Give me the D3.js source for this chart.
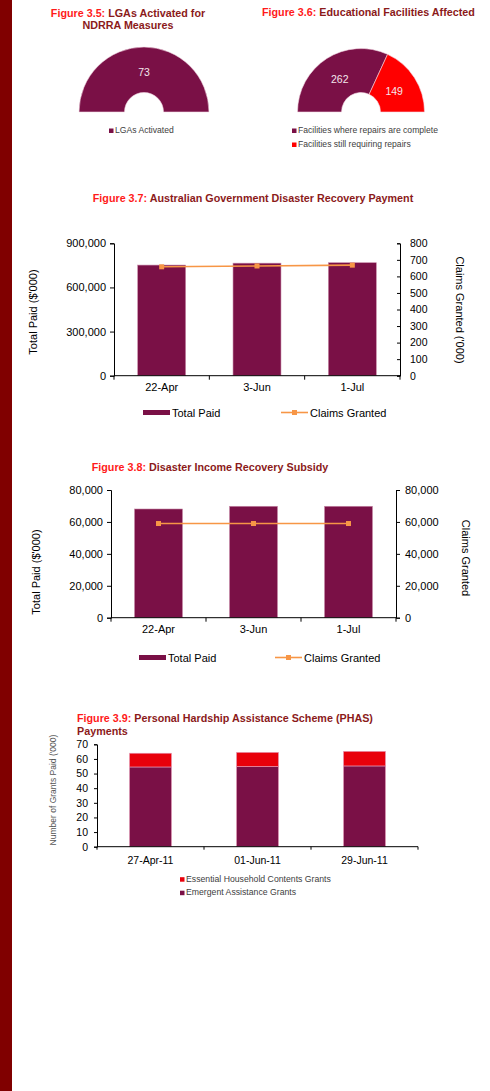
<!DOCTYPE html>
<html><head><meta charset="utf-8">
<script src="https://cdn.jsdelivr.net/npm/d3@7"></script>
<style>body{margin:0;background:#fff;}svg{display:block;font-family:"Liberation Sans",Arial,sans-serif;}</style>
</head><body>
<script>
// ---- Data ----
const lgaLabels = ["LGAs Activated"];
const lgaValues = [73];
const eduLabels = ["Facilities where repairs are complete","Facilities still requiring repairs"];
const eduValues = [262, 149];

const drpDates = ["22-Apr","3-Jun","1-Jul"];
const drpTotalPaid = [752000, 765000, 768000];
const drpClaims = [658, 663, 668];
const drpLeftTicks = [0, 300000, 600000, 900000];
const drpRightTicks = [0,100,200,300,400,500,600,700,800];

const dirsDates = ["22-Apr","3-Jun","1-Jul"];
const dirsTotalPaid = [68100, 69800, 69800];
const dirsClaims = [59000, 59000, 59000];
const dirsTicks = [0, 20000, 40000, 60000, 80000];

const phasDates = ["27-Apr-11","01-Jun-11","29-Jun-11"];
const phasEmergent = [54.5, 54.8, 55.2];
const phasEssential = [9.4, 9.7, 10.0];
const phasTicks = [0,10,20,30,40,50,60,70];

const MAROON = "#7a1046", RED = "#ff0000", RED2 = "#e8000b", ORANGE = "#f79646";
const TRED = "#ff1a1a", TDARK = "#8b1a1a";

const svg = d3.select("body").append("svg").attr("width",490).attr("height",1091);
svg.append("rect").attr("x",0).attr("y",0).attr("width",12).attr("height",1091).attr("fill","#800000");

function title(x, y, anchor, red, dark){
  const t = svg.append("text").attr("x",x).attr("y",y).attr("text-anchor",anchor)
    .attr("font-size",10.75).attr("font-weight","bold");
  if (red) t.append("tspan").attr("fill",TRED).text(red);
  t.append("tspan").attr("fill",TDARK).text(dark);
}

// ---- Figure 3.5 ----
title(128,17,"middle","Figure 3.5:"," LGAs Activated for");
title(128,29,"middle","","NDRRA Measures");
function halfDonut(cx, cy, r, values, colors){
  const pie = d3.pie().sort(null).startAngle(-Math.PI/2).endAngle(Math.PI/2);
  const arc = d3.arc().innerRadius(19.5).outerRadius(r);
  const g = svg.append("g").attr("transform",`translate(${cx},${cy})`);
  const arcs = pie(values);
  g.selectAll("path").data(arcs).join("path").attr("d",arc)
    .attr("fill",(d,i)=>colors[i]).attr("stroke","#f4d8e4").attr("stroke-width",0.6);
  const lab = d3.arc().innerRadius(r*0.62).outerRadius(r*0.62);
  g.selectAll("text").data(arcs).join("text")
    .attr("transform",d=>{const c=lab.centroid(d);return `translate(${c[0]},${c[1]+4})`;})
    .attr("text-anchor","middle").attr("font-size",10.5).attr("fill","#f3e6ec")
    .text(d=>d.data);
}
halfDonut(144,112,65,lgaValues,[MAROON]);
function sqLegend(x, y0, dy, labels, colors, fs){
  labels.forEach((l,i)=>{
    svg.append("rect").attr("x",x).attr("y",y0+i*dy-4.5).attr("width",4.5).attr("height",4.5).attr("fill",colors[i]);
    svg.append("text").attr("x",x+6).attr("y",y0+i*dy).attr("font-size",fs).attr("fill","#404040").text(l);
  });
}
sqLegend(109,133,14,lgaLabels,[MAROON],8.6);

// ---- Figure 3.6 ----
title(262,16,"start","Figure 3.6:"," Educational Facilities  Affected");
halfDonut(361,112,63.5,eduValues,[MAROON,RED]);
sqLegend(292,133,14,eduLabels,[MAROON,RED],8.6);

// ---- Combo chart helper ----
function combo(o){
  const x = d3.scaleBand().domain(o.cats).range([o.x0,o.x1]).paddingInner(o.pad).paddingOuter(o.pad/2);
  const yL = d3.scaleLinear().domain(o.lDom).range([o.y1,o.y0]);
  const yR = d3.scaleLinear().domain(o.rDom).range([o.y1,o.y0]);
  const g = svg.append("g");
  g.selectAll("rect.bar").data(o.bars).join("rect").attr("class","bar")
    .attr("x",(d,i)=>x(o.cats[i])).attr("width",x.bandwidth())
    .attr("y",d=>yL(d)).attr("height",d=>yL(0)-yL(d))
    .attr("fill",MAROON).attr("stroke","#c78aa8").attr("stroke-width",0.6);
  const fmt = d3.format(",");
  const la = g.append("g").attr("transform",`translate(${o.x0},0)`)
    .call(d3.axisLeft(yL).tickValues(o.lTicks).tickFormat(fmt).tickSize(4).tickPadding(4));
  const ra = g.append("g").attr("transform",`translate(${o.x1},0)`)
    .call(d3.axisRight(yR).tickValues(o.rTicks).tickFormat(fmt).tickSize(o.rIn?-3:4).tickPadding(o.rIn?10:5));
  [la,ra].forEach(a=>{a.select(".domain").attr("stroke","#000");a.selectAll("text").attr("font-size",o.fs).attr("fill","#000").attr("font-family","Liberation Sans, Arial");a.selectAll("line").attr("stroke","#000");});
  ra.selectAll("text").attr("font-size",o.rfs);
  // bottom axis
  const step = x.step();
  const bnds = [o.x0].concat(o.cats.map(c=>x(c)+x.bandwidth()+step*o.pad/2));
  g.append("line").attr("x1",o.x0).attr("x2",o.x1).attr("y1",o.y1).attr("y2",o.y1).attr("stroke","#000");
  g.selectAll("line.bt").data(bnds).join("line").attr("class","bt")
    .attr("x1",d=>d).attr("x2",d=>d).attr("y1",o.y1).attr("y2",o.y1+4).attr("stroke","#000");
  g.selectAll("text.xl").data(o.cats).join("text").attr("class","xl")
    .attr("x",d=>x(d)+x.bandwidth()/2).attr("y",o.y1+15).attr("text-anchor","middle")
    .attr("font-size",o.fs).text(d=>d);
  // line
  const line = d3.line().x((d,i)=>x(o.cats[i])+x.bandwidth()/2).y(d=>yR(d));
  g.append("path").datum(o.line).attr("d",line).attr("fill","none").attr("stroke",ORANGE).attr("stroke-width",1.6);
  g.selectAll("rect.mk").data(o.line).join("rect").attr("class","mk")
    .attr("x",(d,i)=>x(o.cats[i])+x.bandwidth()/2-2.5).attr("y",d=>yR(d)-2.5)
    .attr("width",5).attr("height",5).attr("fill",ORANGE);
  // axis titles
  g.append("text").attr("transform",`translate(${o.lLabX},${o.lLabY}) rotate(-90)`)
    .attr("text-anchor","middle").attr("font-size",o.fs).attr("dy","0.35em").text(o.lLab);
  g.append("text").attr("transform",`translate(${o.rLabX},${o.rLabY}) rotate(90)`)
    .attr("text-anchor","middle").attr("font-size",o.fs).attr("dy","0.35em").text(o.rLab);
  // legend
  g.append("rect").attr("x",o.legX1).attr("y",o.legY-7).attr("width",27).attr("height",5).attr("fill",MAROON);
  g.append("text").attr("x",o.legX1+29).attr("y",o.legY).attr("font-size",o.fs).text("Total Paid");
  g.append("line").attr("x1",o.legX2).attr("x2",o.legX2+27).attr("y1",o.legY-4.5).attr("y2",o.legY-4.5).attr("stroke",ORANGE).attr("stroke-width",1.6);
  g.append("rect").attr("x",o.legX2+11).attr("y",o.legY-7).attr("width",5).attr("height",5).attr("fill",ORANGE);
  g.append("text").attr("x",o.legX2+29).attr("y",o.legY).attr("font-size",o.fs).text("Claims Granted");
}

// ---- Figure 3.7 ----
title(253,202,"middle","Figure 3.7:"," Australian Government Disaster Recovery Payment");
combo({cats:drpDates,bars:drpTotalPaid,line:drpClaims,x0:114,x1:400,y0:243.3,y1:375.7,pad:0.497,
  lDom:[0,900000],rDom:[0,800],lTicks:drpLeftTicks,rTicks:drpRightTicks,rIn:true,fs:11,rfs:10.5,
  lLab:"Total Paid ($'000)",lLabX:33,lLabY:312,rLab:"Claims Granted ('000)",rLabX:460,rLabY:310,
  legX1:143,legX2:281,legY:417});

// ---- Figure 3.8 ----
title(210,471,"middle","Figure 3.8:"," Disaster Income Recovery Subsidy");
combo({cats:dirsDates,bars:dirsTotalPaid,line:dirsClaims,x0:111,x1:396,y0:490,y1:617.7,pad:0.495,
  lDom:[0,80000],rDom:[0,80000],lTicks:dirsTicks,rTicks:dirsTicks,rIn:false,fs:11,rfs:11,
  lLab:"Total Paid ($'000)",lLabX:36,lLabY:572,rLab:"Claims Granted",rLabX:466,rLabY:558,
  legX1:139,legX2:275,legY:662});

// ---- Figure 3.9 ----
title(77,722,"start","Figure 3.9:"," Personal Hardship Assistance Scheme (PHAS)");
title(77,735,"start","","Payments");
(function(){
  const x0=97,x1=418,y0=744.3,y1=846.7,pad=0.607;
  const x = d3.scaleBand().domain(phasDates).range([x0,x1]).paddingInner(pad).paddingOuter(pad/2);
  const y = d3.scaleLinear().domain([0,70]).range([y1,y0]);
  const rows = phasDates.map((d,i)=>({date:d,emergent:phasEmergent[i],essential:phasEssential[i]}));
  const stack = d3.stack().keys(["emergent","essential"])(rows);
  const cols = [MAROON, RED2];
  const g = svg.append("g");
  g.selectAll("g.s").data(stack).join("g").attr("class","s").attr("fill",(d,i)=>cols[i])
    .selectAll("rect").data(d=>d).join("rect")
    .attr("x",d=>x(d.data.date)).attr("width",x.bandwidth())
    .attr("y",d=>y(d[1])).attr("height",d=>y(d[0])-y(d[1]))
    .attr("stroke","#e7a0bc").attr("stroke-width",0.6);
  const la = g.append("g").attr("transform",`translate(${x0},0)`)
    .call(d3.axisLeft(y).tickValues(phasTicks).tickSize(3).tickPadding(6));
  la.select(".domain").attr("stroke","#000");
  la.selectAll("line").attr("stroke","#000");
  la.selectAll("text").attr("font-size",10.5).attr("fill","#000").attr("font-family","Liberation Sans, Arial");
  const step = x.step();
  const bnds = [x0].concat(phasDates.map(c=>x(c)+x.bandwidth()+step*pad/2));
  g.append("line").attr("x1",x0).attr("x2",x1).attr("y1",y1).attr("y2",y1).attr("stroke","#000");
  g.selectAll("line.bt").data(bnds).join("line").attr("class","bt")
    .attr("x1",d=>d).attr("x2",d=>d).attr("y1",y1).attr("y2",y1+3).attr("stroke","#000");
  g.selectAll("text.xl").data(phasDates).join("text").attr("class","xl")
    .attr("x",d=>x(d)+x.bandwidth()/2).attr("y",864).attr("text-anchor","middle")
    .attr("font-size",10.5).text(d=>d);
  g.append("text").attr("transform","translate(53,790) rotate(-90)").attr("text-anchor","middle")
    .attr("dy","0.35em").attr("font-size",8.5).attr("fill","#555").text("Number of Grants Paid ('000)");
  sqLegend(180,881.7,13.5,["Essential Household Contents Grants","Emergent Assistance Grants"],[RED2,MAROON],8.7);
})();
</script>
</body></html>
